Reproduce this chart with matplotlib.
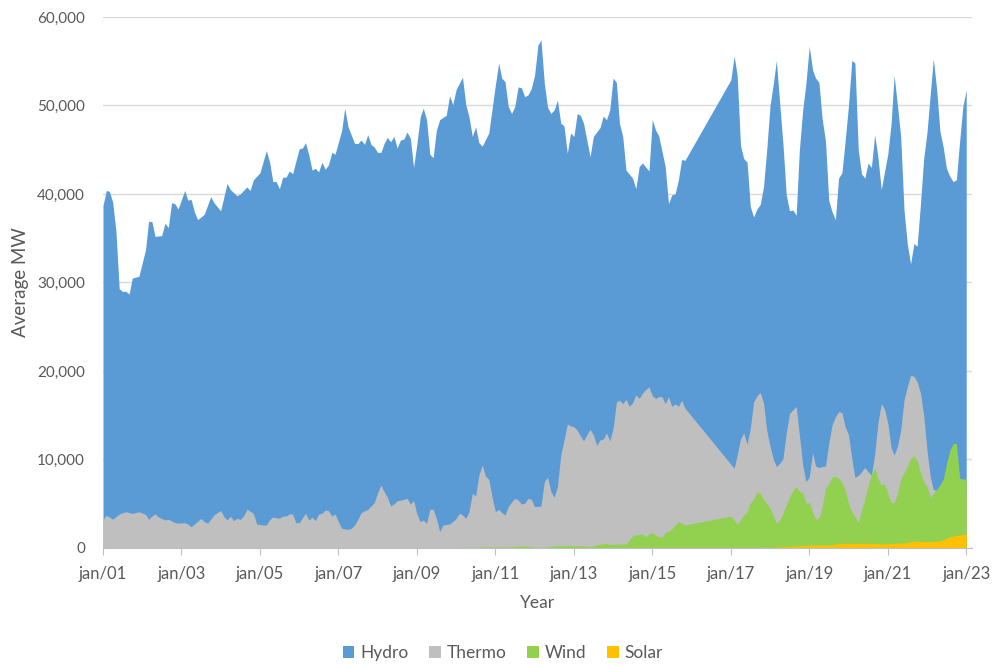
import matplotlib
matplotlib.use("Agg")
import matplotlib.pyplot as plt
import matplotlib.ticker as mticker
from matplotlib.patches import Patch
import numpy as np

plt.rcParams['font.family'] = ['Lato', 'DejaVu Sans']

# months counted from jan/2001, values in average MW
hydro_m = [0, 1, 2, 3, 4, 5, 6, 7, 8, 9, 10, 11, 13, 14, 15, 16, 18, 19, 20, 21, 22, 23,
           25, 26, 27, 28, 29, 31, 33, 34, 36, 38, 39, 41, 42, 44, 45, 46, 48, 50, 51, 52,
           53, 54, 55, 56, 57, 58, 60, 61, 62, 63, 64, 65, 66, 67, 68, 69, 70, 71, 73, 74,
           75, 77, 78, 79, 80, 81, 82, 83, 84, 85, 86, 87, 88, 89, 90, 91, 92, 93, 94, 95,
           96, 97, 98, 99, 100, 101, 102, 103, 105, 106, 107, 108, 110, 111, 112, 113, 114,
           115, 116, 118, 120, 121, 122, 123, 124, 125, 126, 127, 128, 129, 130, 131, 132,
           133, 134, 135, 136, 137, 138, 139, 140, 141, 142, 143, 144, 145, 146, 147, 149,
           150, 152, 153, 154, 155, 156, 157, 158, 159, 160, 162, 163, 164, 165, 167, 168,
           169, 170, 172, 173, 174, 175, 176, 177, 178, 192, 193, 194, 195, 196, 197, 198,
           199, 200, 201, 202, 203, 204, 205, 206, 207, 208, 209, 210, 211, 212, 213, 214,
           215, 216, 217, 218, 219, 220, 221, 222, 223, 224, 225, 226, 227, 228, 229, 230,
           231, 232, 233, 234, 235, 236, 237, 238, 239, 240, 241, 242, 243, 244, 245, 246,
           247, 248, 249, 250, 251, 252, 253, 254, 255, 256, 257, 258, 259, 260, 261, 262,
           263, 264]
hydro = [38700, 40400, 40300, 39100, 35900, 29300, 29000, 29000, 28700, 30500, 30600, 30700,
         33700, 36900, 36900, 35200, 35300, 36700, 36200, 39000, 38900, 38300, 40400, 39300,
         39400, 38000, 37100, 37700, 39700, 39000, 38100, 41200, 40500, 39800, 40000, 40800,
         40400, 41600, 42400, 44900, 43600, 41400, 41400, 40600, 41900, 41900, 42600, 42300,
         45100, 45200, 45800, 44400, 42700, 42900, 42500, 43600, 42800, 43300, 44700, 44500,
         47200, 49700, 47600, 45700, 45700, 46100, 45600, 46700, 45600, 45300, 44700, 44700,
         45700, 46400, 45900, 46500, 45200, 46100, 46200, 47000, 46300, 43000, 45700, 48700,
         49700, 48400, 44500, 44100, 47200, 48400, 48900, 51100, 50100, 51800, 53200, 50100,
         48700, 46500, 47600, 45800, 45400, 46900, 52300, 54800, 53100, 52700, 49900, 49100,
         49900, 52100, 52000, 51000, 51200, 51900, 53400, 56800, 57400, 52500, 49800, 49100,
         49500, 50600, 48000, 47700, 44600, 46900, 46500, 49100, 48900, 48000, 44200, 46500,
         47500, 48800, 48400, 49500, 53100, 52600, 48000, 46500, 42700, 41800, 40600, 43100,
         43500, 42600, 48400, 47200, 46600, 43100, 38900, 39900, 40000, 41600, 43900, 43800,
         52900, 55600, 53400, 45500, 44000, 43600, 38600, 37400, 38300, 38800, 40800, 45000,
         50000, 52500, 55100, 50200, 45700, 39900, 38100, 38200, 37600, 45000, 49500, 52500,
         56700, 54000, 53100, 52600, 48500, 46000, 39300, 38000, 37100, 41800, 42400, 46000,
         50000, 55100, 54800, 45000, 42300, 41800, 43500, 43000, 46700, 44200, 40500, 42500,
         44500, 48000, 53400, 50000, 46500, 38200, 34400, 32100, 34400, 34100, 38900, 44000,
         47000, 51400, 55300, 51800, 47100, 45300, 42900, 42000, 41400, 41600, 46000, 49900,
         51800]

thermo_m = [0, 1, 3, 5, 7, 9, 11, 13, 14, 15, 16, 17, 19, 20, 22, 23, 25, 26, 27, 29, 30, 31,
            32, 34, 35, 36, 37, 38, 39, 40, 41, 42, 43, 44, 46, 47, 49, 50, 51, 52, 54, 55,
            56, 57, 58, 59, 60, 62, 63, 64, 65, 66, 67, 68, 69, 70, 71, 72, 73, 74, 75, 76,
            77, 78, 79, 80, 81, 82, 83, 84, 85, 86, 87, 88, 89, 90, 91, 92, 93, 94, 95, 96,
            97, 98, 99, 100, 101, 102, 103, 104, 106, 107, 108, 109, 110, 111, 112, 113, 114,
            115, 116, 117, 118, 119, 120, 121, 122, 123, 124, 125, 126, 127, 128, 129, 130,
            131, 132, 133, 134, 135, 136, 137, 138, 139, 140, 141, 142, 143, 144, 145, 146,
            147, 148, 149, 150, 151, 152, 153, 154, 155, 156, 157, 158, 159, 160, 161, 162,
            163, 164, 165, 166, 167, 168, 169, 170, 171, 172, 173, 174, 175, 176, 177, 178,
            193, 194, 195, 196, 197, 198, 199, 200, 201, 202, 203, 204, 205, 206, 207, 208,
            209, 210, 211, 212, 213, 214, 215, 216, 217, 218, 219, 220, 221, 222, 223, 224,
            225, 226, 227, 228, 229, 230, 231, 232, 233, 234, 235, 236, 237, 238, 239, 240,
            241, 242, 243, 244, 245, 246, 247, 248, 249, 250, 251, 252, 253, 254, 255, 256,
            257, 258, 260, 262, 264]
thermo = [3200, 3700, 3250, 3850, 4100, 3900, 4100, 3800, 3250, 3600, 3850, 3500, 3160, 3250,
          2860, 2800, 2860, 2700, 2400, 3000, 3350, 2980, 2790, 3730, 4000, 4220, 3540, 3160,
          3600, 3090, 3350, 3240, 3600, 4370, 3920, 2710, 2600, 2600, 3200, 3500, 3350, 3600,
          3600, 3840, 3840, 2860, 2860, 3920, 3160, 3470, 3100, 3840, 3920, 4290, 4220, 3600,
          3840, 2980, 2220, 2150, 2110, 2220, 2600, 3240, 4000, 4200, 4350, 4750, 5120, 6250,
          7120, 6370, 5730, 4750, 4970, 5350, 5400, 5500, 5610, 4970, 5350, 3840, 2980, 3160,
          2790, 4370, 4370, 3350, 1850, 2600, 2710, 2980, 3350, 3920, 3730, 3350, 4100, 6180,
          5880, 8250, 9380, 8140, 7760, 5800, 4100, 4370, 4000, 3730, 4670, 5200, 5610, 5420,
          4970, 5050, 5610, 5500, 4670, 4700, 4750, 7500, 8000, 6370, 5730, 6930, 10500, 12200,
          14000, 13800, 13700, 13300, 12700, 12100, 12800, 13400, 12800, 11600, 12200, 12300,
          13000, 12100, 13500, 16500, 16700, 16300, 16800, 16000, 16400, 17300, 16900, 17500,
          17900, 18200, 17200, 16900, 17100, 17100, 16300, 17100, 16000, 16300, 16000, 16700,
          15800, 9000, 10500, 12300, 13000, 11700, 13500, 16500, 17200, 17600, 16400, 13300,
          11500, 10000, 9200, 9570, 10100, 13000, 15200, 15600, 16000, 12800, 9380, 7500, 8000,
          10800, 9270, 9100, 9200, 9270, 11800, 13900, 14800, 15400, 15300, 13700, 12800, 10100,
          7980, 8200, 8600, 9110, 8630, 8250, 10600, 14100, 16300, 15700, 14100, 11300, 10500,
          11500, 13300, 16700, 18200, 19500, 19400, 18800, 17500, 15000, 11000, 8000, 6600,
          6500, 6200, 6000, 6000, 6000, 6000, 6200]

wind_m = [108, 115, 119, 124, 127, 129, 132, 135, 138, 142, 147, 149, 151, 152, 154, 155, 156,
          159, 160, 161, 162, 163, 165, 166, 167, 168, 169, 170, 171, 172, 174, 175, 176, 177,
          178, 192, 193, 194, 195, 196, 197, 198, 199, 200, 201, 202, 203, 204, 205, 206, 207,
          208, 209, 210, 211, 212, 213, 214, 215, 216, 217, 218, 219, 220, 221, 222, 223, 224,
          225, 226, 227, 228, 229, 230, 231, 232, 233, 234, 235, 236, 237, 238, 239, 240, 241,
          242, 243, 244, 245, 246, 247, 248, 249, 250, 251, 252, 253, 254, 255, 256, 257, 258,
          259, 260, 261, 262, 263, 264]
wind = [50, 100, 120, 100, 200, 230, 80, 80, 230, 300, 230, 150, 340, 450, 530, 410, 410, 450,
        450, 900, 1360, 1470, 1580, 1280, 1580, 1730, 1470, 1280, 1200, 1730, 2110, 2600, 2980,
        2800, 2600, 3600, 3160, 2670, 3200, 3730, 4100, 5050, 5500, 6370, 6180, 5500, 5050, 4480,
        3620, 2790, 3160, 3920, 4860, 5730, 6480, 6930, 6370, 6200, 5050, 5120, 4100, 3240, 3350,
        4670, 6740, 7230, 8000, 8100, 7870, 7380, 6550, 5050, 4100, 3540, 2860, 4290, 5500, 7000,
        8250, 9000, 7870, 7120, 7230, 6180, 5120, 5120, 6180, 7760, 8500, 9200, 10100, 10400,
        9900, 8510, 7500, 6930, 5730, 6180, 6630, 7120, 7760, 9500, 11000, 11800, 11800, 7870,
        7800, 7800]

solar_m = [198, 204, 212, 217, 222, 226, 230, 234, 238, 242, 246, 248, 250, 253, 256, 258, 260,
           262, 264]
solar = [50, 80, 230, 340, 340, 530, 530, 530, 450, 530, 600, 790, 720, 720, 790, 1090, 1360,
         1470, 1580]

series = ["Hydro", "Thermo", "Wind", "Solar"]
colors = ["#5B9BD5", "#BFBFBF", "#92D050", "#FFC000"]

tick_years = list(range(2001, 2024, 2))
tick_labels = ["jan/01", "jan/03", "jan/05", "jan/07", "jan/09", "jan/11",
               "jan/13", "jan/15", "jan/17", "jan/19", "jan/21", "jan/23"]


def to_dates(months):
    return (np.datetime64("2001-01", "M") + np.array(months)).astype("datetime64[D]")


fig = plt.figure(figsize=(9.94, 6.66), dpi=100)
ax = fig.add_axes([0.1036, 0.1772, 0.8744, 0.7973])

data = [(hydro_m, hydro), (thermo_m, thermo), (wind_m, wind), (solar_m, solar)]
for (m, v), name, c in zip(data, series, colors):
    ax.fill_between(to_dates(m), 0, v, color=c, linewidth=0, label=name, zorder=2)

ax.set_xlim(np.datetime64("2001-01-01"), np.datetime64("2023-02-25"))
ax.set_ylim(0, 60000)
ax.set_xticks([np.datetime64(f"{y}-01-01") for y in tick_years])
ax.set_xticklabels(tick_labels)
ax.set_yticks(range(0, 60001, 10000))
ax.yaxis.set_major_formatter(mticker.FuncFormatter(lambda v, p: f"{int(v):,}"))

ax.grid(axis="y", color="#D9D9D9", linewidth=1, zorder=0)
ax.set_axisbelow(True)
for s in ["top", "right", "left"]:
    ax.spines[s].set_visible(False)
ax.spines["bottom"].set_color("#BFBFBF")
ax.spines["bottom"].set_zorder(3)

ax.tick_params(axis="y", length=0, pad=13, labelsize=11, labelcolor="#595959")
ax.tick_params(axis="x", length=5, color="#BFBFBF", pad=8, labelsize=12, labelcolor="#595959")

ax.set_xlabel("Year", fontsize=12.5, color="#595959", labelpad=9)
ax.set_ylabel("Average MW", fontsize=13.5, color="#595959", labelpad=6)

handles = [Patch(facecolor=c, edgecolor="none") for c in colors]
fig.legend(handles, series, loc="center", bbox_to_anchor=(0.506, 0.019), ncol=4,
           frameon=False, fontsize=12.5, handlelength=0.65, handleheight=0.65,
           handletextpad=0.35, columnspacing=1.2, labelcolor="#595959")

fig.savefig("out.png", dpi=100)
